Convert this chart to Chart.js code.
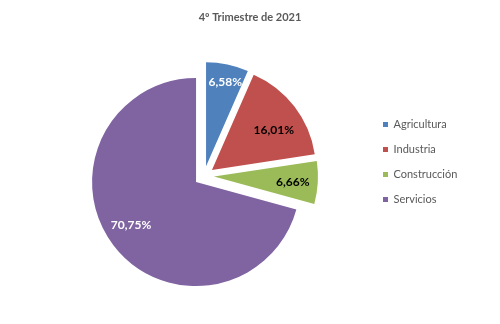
<!DOCTYPE html>
<html><head><meta charset="utf-8">
<script src="https://cdn.jsdelivr.net/npm/chart.js@4.4.1/dist/chart.umd.min.js"></script>
<style>html,body{margin:0;padding:0;background:#fff;}#wrap{width:500px;height:324px;}canvas{display:block;}</style>
</head><body>
<div id="wrap"><canvas id="c" width="500" height="324"></canvas></div>
<script>
const chartTitle = '4º Trimestre de 2021';
const categories = ['Agricultura', 'Industria', 'Construcción', 'Servicios'];
const values = [6.58, 16.01, 6.66, 70.75];
const colors = ['#4F81BD', '#C0504D', '#9BBB59', '#8064A2'];
const labelColors = ['#FFFFFF', '#000000', '#000000', '#FFFFFF'];

// styling of the data labels (fraction of radius / angle nudge in degrees)
const labelRadius = [0.83, 0.71, 0.76, 0.75];
const labelNudge = [1, 4.5, 0.7, 3.9];
const explodePx = 10;

const fmt = v => v.toFixed(2).replace('.', ',') + '%';

// draw every slice pulled out of the centre by explodePx (Excel "exploded" pie)
const explode = {
  id: 'explode',
  beforeDatasetDraw(chart, args) {
    const ctx = chart.ctx;
    args.meta.data.forEach(arc => {
      const mid = (arc.startAngle + arc.endAngle) / 2;
      ctx.save();
      ctx.translate(Math.cos(mid) * explodePx, Math.sin(mid) * explodePx);
      arc.draw(ctx);
      ctx.restore();
    });
    return false;
  }
};

const sliceLabels = {
  id: 'sliceLabels',
  afterDatasetsDraw(chart) {
    const ctx = chart.ctx;
    const meta = chart.getDatasetMeta(0);
    meta.data.forEach((arc, i) => {
      const mid = (arc.startAngle + arc.endAngle) / 2;
      const ax = arc.x + Math.cos(mid) * explodePx;
      const ay = arc.y + Math.sin(mid) * explodePx;
      const a = mid + labelNudge[i] * Math.PI / 180;
      const r = arc.outerRadius * labelRadius[i];
      ctx.save();
      ctx.font = 'bold 12px Lato';
      ctx.fillStyle = labelColors[i];
      ctx.textAlign = 'center';
      ctx.textBaseline = 'middle';
      ctx.fillText(fmt(values[i]), ax + Math.cos(a) * r, ay + Math.sin(a) * r);
      ctx.restore();
    });
  }
};

new Chart(document.getElementById('c'), {
  type: 'pie',
  data: {
    labels: categories,
    datasets: [{
      data: values,
      backgroundColor: colors,
      borderWidth: 0,
      hoverOffset: 0
    }]
  },
  options: {
    responsive: false,
    animation: false,
    radius: 104,
    layout: { padding: { left: 39, right: 39, top: 0, bottom: 0 } },
    plugins: {
      tooltip: { enabled: false },
      title: {
        display: true,
        text: chartTitle,
        color: '#595959',
        font: { family: 'Lato', size: 11, weight: 'bold' },
        padding: { top: 11, bottom: 3.8 }
      },
      legend: {
        display: true,
        position: 'right',
        maxWidth: 92,
        labels: {
          boxWidth: 5,
          boxHeight: 5,
          padding: 14,
          color: '#595959',
          font: { family: 'Lato', size: 11 }
        }
      }
    }
  },
  plugins: [explode, sliceLabels]
});
</script>
</body></html>
